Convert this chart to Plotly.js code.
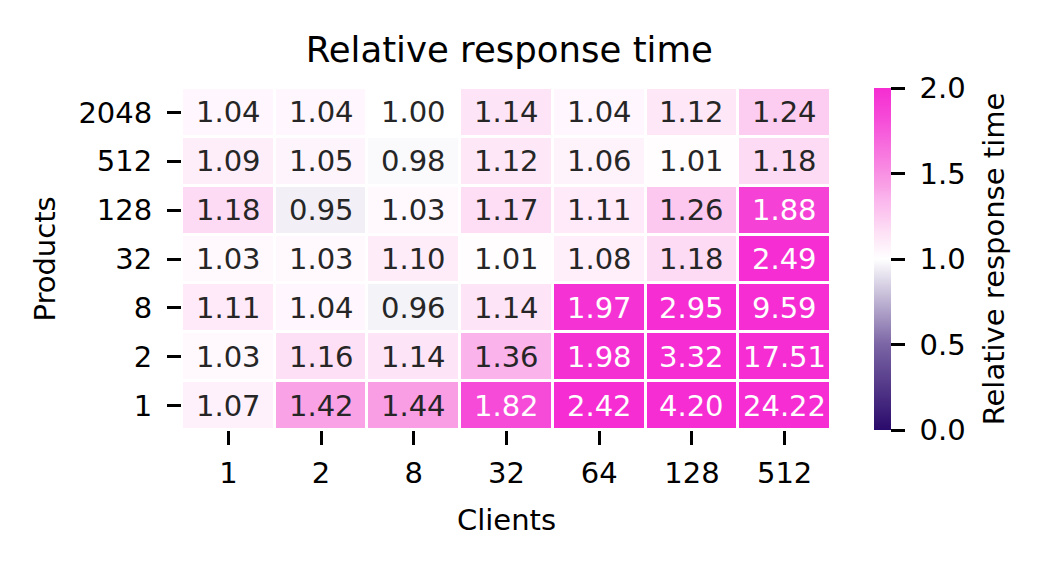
<!DOCTYPE html>
<html><head><meta charset="utf-8">
<script src="https://cdn.plot.ly/plotly-3.0.1.min.js"></script>
<style>html,body{margin:0;padding:0;background:#fff}#chart{width:1050px;height:568px}</style>
</head><body><div id="chart"></div>
<script>
const clients = ['1','2','8','32','64','128','512'];
const products = ['1','2','8','32','128','512','2048'];
const row_p1    = [1.07,1.42,1.44,1.82,2.42,4.20,24.22];
const row_p2    = [1.03,1.16,1.14,1.36,1.98,3.32,17.51];
const row_p8    = [1.11,1.04,0.96,1.14,1.97,2.95,9.59];
const row_p32   = [1.03,1.03,1.10,1.01,1.08,1.18,2.49];
const row_p128  = [1.18,0.95,1.03,1.17,1.11,1.26,1.88];
const row_p512  = [1.09,1.05,0.98,1.12,1.06,1.01,1.18];
const row_p2048 = [1.04,1.04,1.00,1.14,1.04,1.12,1.24];
const z = [row_p1,row_p2,row_p8,row_p32,row_p128,row_p512,row_p2048];

const xi = clients.map((_,j)=>j);
const yi = products.map((_,i)=>i);
const font = 'DejaVu Sans, sans-serif';
const FS = 29;
const annotations = [];
z.forEach((row,i)=>row.forEach((v,j)=>{
  annotations.push({x:xi[j], y:yi[i], xref:'x', yref:'y', text:v.toFixed(2),
    showarrow:false, font:{family:font,size:29,color: v>1.6 ? '#ffffff' : '#262626'}});
}));

const trace = {
  type:'heatmap', x:xi, y:yi, z:z, zmin:0, zmax:2,
  xgap:3, ygap:3,
  colorscale:[[0,'#2a0a6b'],[0.25,'#7b65a5'],[0.5,'#ffffff'],[0.58,'#fde0f5'],[0.63,'#fcc8f0'],
    [0.68,'#fbb3ec'],[0.71,'#f9a2e6'],[0.91,'#f64bd8'],[1,'#f52dd2']],
  hoverinfo:'skip',
  colorbar:{x:1.0663, xanchor:'left', xpad:0, y:0.5, yanchor:'middle', ypad:0,
    len:342, lenmode:'pixels',
    thickness:17, outlinewidth:0, tickmode:'linear', tick0:0, dtick:0.5, tickformat:'.1f',
    tickprefix:'\u00a0', ticksuffix:'\u00a0',
    ticks:'outside', ticklen:14, tickwidth:3, tickcolor:'#000',
    tickfont:{family:font,size:FS,color:'#000'},
    title:{text:'Relative response time', side:'right', font:{family:font,size:FS,color:'#000'}}}
};

const layout = {
  width:1050, height:568,
  margin:{l:182, r:219, t:88, b:138},
  paper_bgcolor:'#fff', plot_bgcolor:'#fff',
  title:{text:'Relative response time', x:0.485, xanchor:'center', y:0.912, yanchor:'middle',
    font:{family:font,size:35.5,color:'#000'}},
  xaxis:{range:[-0.5,6.5], tickmode:'array', tickvals:xi, ticktext:clients,
    ticks:'outside', ticklen:14, tickwidth:3, tickcolor:'#000', ticklabelstandoff:3,
    showline:false, showgrid:false, zeroline:false,
    tickfont:{family:font,size:FS,color:'#000'},
    title:{text:'Clients', font:{family:font,size:FS,color:'#000'}, standoff:20}},
  yaxis:{range:[-0.5,6.5], tickmode:'array', tickvals:yi, ticktext:products,
    ticks:'outside', ticklen:14, tickwidth:3, tickcolor:'#000', ticklabelstandoff:9,
    showline:false, showgrid:false, zeroline:false,
    tickfont:{family:font,size:FS,color:'#000'},
    title:{text:'Products', font:{family:font,size:FS,color:'#000'}, standoff:14}},
  annotations:annotations
};
Plotly.newPlot('chart',[trace],layout,{displayModeBar:false});
</script></body></html>
